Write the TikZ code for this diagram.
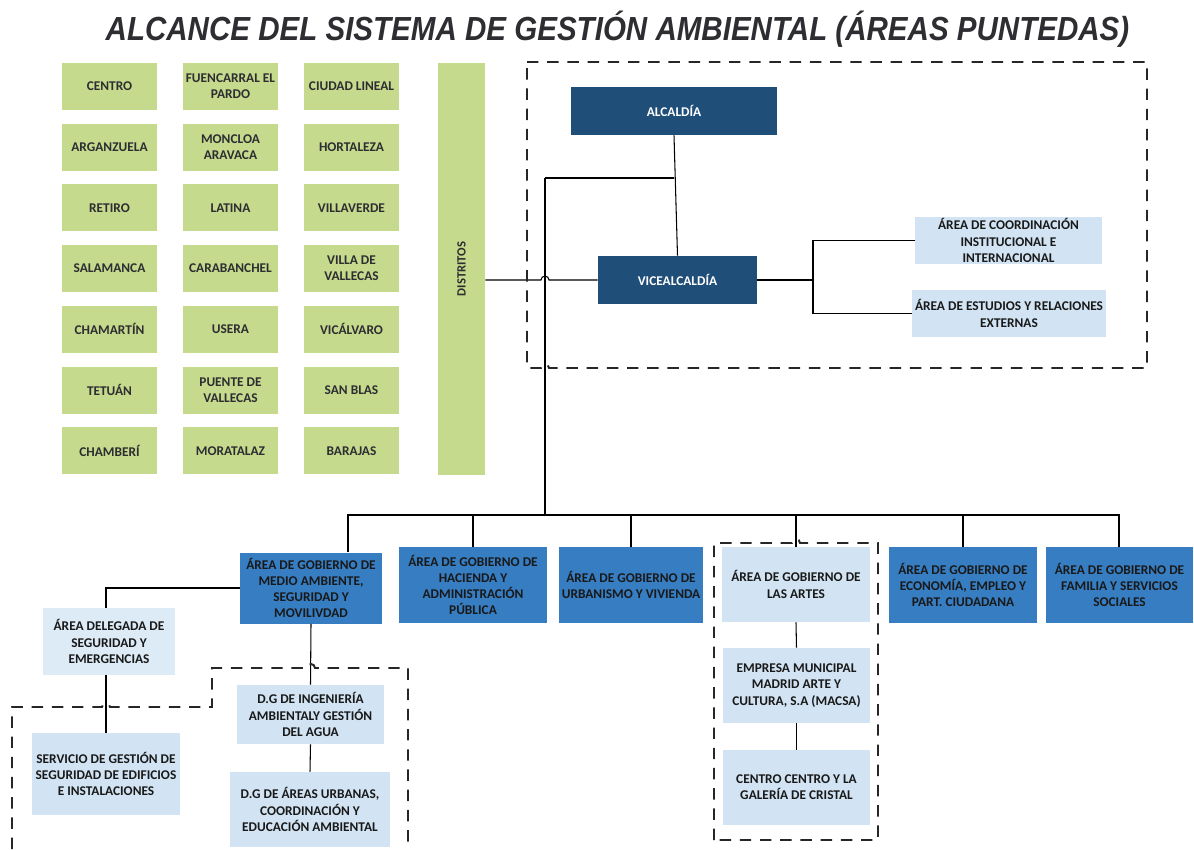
\documentclass[tikz,border=0pt]{standalone}
\usepackage{fontspec}
\setmainfont{Carlito}
\newfontfamily\titlefont{Liberation Sans}
\usetikzlibrary{calc}
\definecolor{distgreen}{RGB}{197,218,140}
\definecolor{darkblue}{RGB}{31,78,121}
\definecolor{midblue}{RGB}{54,125,194}
\definecolor{paleblue}{RGB}{210,228,243}
\definecolor{inkgrey}{RGB}{45,45,50}
\tikzset{
	box/.style={inner sep=0pt, align=center, font=\fontsize{7.6}{9.2}\selectfont\bfseries},
	distbox/.style={box, fill=distgreen, text=inkgrey, minimum width=1.92cm, minimum height=0.94cm},
	darkbox/.style={box, fill=darkblue, text=white},
	midbox/.style={box, fill=midblue, text=black!90},
	lightbox/.style={box, fill=paleblue, text=black!90},
	link/.style={draw=black, line width=0.6pt},
	scopeline/.style={line width=1.1pt, dash pattern=on 6.5pt off 5pt, black!85},
}

\begin{document}
\begin{tikzpicture}[x=0.02cm, y=-0.02cm]
			%%%%% START %%%%%
			\useasboundingbox (0,0) rectangle (1194,849);
			
			\node[anchor=base, text=inkgrey, font=\titlefont\fontsize{19}{22}\selectfont\bfseries\itshape] (title) at (617.5,40) {\scalebox{0.885}[1]{ALCANCE DEL SISTEMA DE GESTIÓN AMBIENTAL (ÁREAS PUNTEDAS)}};
			
			% distritos
			\foreach \txt [count=\r] in {CENTRO, ARGANZUELA, RETIRO, SALAMANCA, CHAMARTÍN, TETUÁN, CHAMBERÍ}
				\node[distbox] (d1-\r) at (109.5, {25.8+60.7*\r}) {\txt};
			\foreach \txt [count=\r] in {{FUENCARRAL EL\\PARDO}, {MONCLOA\\ARAVACA}, LATINA, CARABANCHEL, USERA, {PUENTE DE\\VALLECAS}, MORATALAZ}
				\node[distbox] (d2-\r) at (230.5, {25.8+60.7*\r}) {\txt};
			\foreach \txt [count=\r] in {CIUDAD LINEAL, HORTALEZA, VILLAVERDE, {VILLA DE\\VALLECAS}, VICÁLVARO, SAN BLAS, BARAJAS}
				\node[distbox] (d3-\r) at (351.5, {25.8+60.7*\r}) {\txt};
			\node[distbox, rotate=90, minimum width=8.24cm, minimum height=0.94cm, font=\fontsize{7.2}{8}\selectfont\bfseries] (distritos) at (461.5,269) {DISTRITOS};
			
			% alcaldia
			\node[darkbox, minimum width=4.12cm, minimum height=0.96cm] (alcaldia) at (674,111) {ALCALDÍA};
			\node[darkbox, minimum width=3.18cm, minimum height=0.96cm] (vice) at (677.5,280) {VICEALCALDÍA};
			\node[lightbox, minimum width=3.74cm, minimum height=0.94cm] (coord) at (1008.5,240.5) {ÁREA DE COORDINACIÓN\\INSTITUCIONAL E\\INTERNACIONAL};
			\node[lightbox, minimum width=3.88cm, minimum height=0.94cm] (estudios) at (1009,313.5) {ÁREA DE ESTUDIOS Y RELACIONES\\EXTERNAS};
			
			% areas de gobierno
			\node[midbox, minimum width=2.84cm, minimum height=1.42cm] (medio) at (311,588) {ÁREA DE GOBIERNO DE\\MEDIO AMBIENTE,\\SEGURIDAD Y\\MOVILIVDAD};
			\node[midbox, minimum width=2.96cm, minimum height=1.52cm] (hacienda) at (473,585) {ÁREA DE GOBIERNO DE\\HACIENDA Y\\ADMINISTRACIÓN\\PÚBLICA};
			\node[midbox, minimum width=2.88cm, minimum height=1.52cm] (urbanismo) at (631,585) {ÁREA DE GOBIERNO DE\\URBANISMO Y VIVIENDA};
			\node[lightbox, minimum width=2.96cm, minimum height=1.5cm] (artes) at (796,584.5) {ÁREA DE GOBIERNO DE\\LAS ARTES};
			\node[midbox, minimum width=2.96cm, minimum height=1.52cm] (economia) at (963,585) {ÁREA DE GOBIERNO DE\\ECONOMÍA, EMPLEO Y\\PART. CIUDADANA};
			\node[midbox, minimum width=2.94cm, minimum height=1.52cm] (familia) at (1119.5,585) {ÁREA DE GOBIERNO DE\\FAMILIA Y SERVICIOS\\SOCIALES};
			
			% dependencias
			\node[lightbox, fill=paleblue!75, minimum width=2.64cm, minimum height=1.34cm] (delegada) at (109,641.5) {ÁREA DELEGADA DE\\SEGURIDAD Y\\EMERGENCIAS};
			\node[lightbox, minimum width=2.96cm, minimum height=1.64cm] (servicio) at (106,774) {SERVICIO DE GESTIÓN DE\\SEGURIDAD DE EDIFICIOS\\E INSTALACIONES};
			\node[lightbox, minimum width=2.94cm, minimum height=1.18cm] (ingenieria) at (310.5,714.5) {D.G DE INGENIERÍA\\AMBIENTALY GESTIÓN\\DEL AGUA};
			\node[lightbox, minimum width=3.2cm, minimum height=1.5cm] (urbanas) at (310,809.5) {D.G DE ÁREAS URBANAS,\\COORDINACIÓN Y\\EDUCACIÓN AMBIENTAL};
			\node[lightbox, minimum width=2.94cm, minimum height=1.5cm] (empresa) at (796.5,685.5) {EMPRESA MUNICIPAL\\MADRID ARTE Y\\CULTURA, S.A (MACSA)};
			\node[lightbox, minimum width=2.94cm, minimum height=1.5cm] (cristal) at (796.5,787.5) {CENTRO CENTRO Y LA\\GALERÍA DE CRISTAL};
			
			% lineas
			\coordinate (j1) at (545,178);
			\coordinate (busL) at (348,515);
			\coordinate (busR) at (1119,515);
			\coordinate (vj) at (813,280);
			\coordinate (hopA) at (j1 |- vice.west);
			
			\draw[link] (alcaldia.south) -- (vice.north);
			\draw[link] (j1) -- (j1 -| alcaldia.south);
			\draw[link] (j1) -- (j1 |- busL);
			\draw[link] (distritos.south |- vice.west) -- ([xshift=-0.08cm]hopA) arc (180:0:0.08cm) -- (vice.west);
			\draw[link] (vice.east) -- (vj);
			\draw[link] (coord.west) -| (vj) |- (estudios.west);
			
			\draw[link] (busL |- medio.north) -- (busL) -- (busR) -- (busR |- familia.north);
			\foreach \n in {hacienda, urbanismo, artes, economia}
				\draw[link] (\n.north) -- (\n.north |- busL);
			
			\draw[link] (medio.west) -| (servicio.north |- delegada.north);
			\draw[link] (servicio.north |- delegada.south) -- (servicio.north);
			\draw[link] (medio.south) -- (ingenieria.north);
			\draw[link] (ingenieria.south) -- (urbanas.north);
			\draw[link] (artes.south) -- (empresa.north);
			\draw[link] (empresa.south) -- (cristal.north);
			
			% areas punteadas
			\draw[scopeline] (527,62) -- (1147,62) -- (1147,368) -- (549,368) arc (0:180:0.08cm) -- (527,368) -- cycle;
			\draw[scopeline] (714,840) -- (714,543) -- (792,543) arc (180:0:0.08cm) -- (878,543) -- (878,840) -- cycle;
			\draw[scopeline] (12,849) -- (12,707) -- (102,707) arc (180:0:0.08cm) -- (212,707) -- (212,668) -- (307,668) arc (180:0:0.08cm) -- (408,668) -- (408,849);
			
			%%%%% END %%%%%
\end{tikzpicture}
\end{document}
